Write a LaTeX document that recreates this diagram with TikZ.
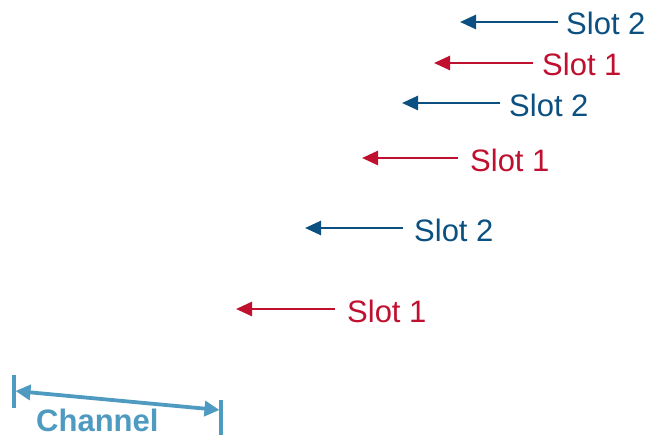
\documentclass[tikz,border=0pt]{standalone}
\usepackage{fontspec}
\setmainfont{Liberation Sans}
\usetikzlibrary{arrows.meta}
\definecolor{slotblue}{HTML}{0B5080}
\definecolor{slotred}{HTML}{C01030}
\definecolor{chan}{HTML}{4E9AC0}
\begin{document}
\begin{tikzpicture}[x=1pt,y=-1pt,
  lbl/.style={anchor=base west,inner sep=0pt,font=\fontsize{31}{36}\selectfont},
  blue lbl/.style={lbl,text=slotblue},
  red lbl/.style={lbl,text=slotred},
  slotarrow/.style={line width=2.6pt,-{Triangle[length=16pt,width=14pt]}},
  chanarrow/.style={line width=3.8pt,{Triangle[length=15pt,width=15pt]}-{Triangle[length=15pt,width=15pt]}},
  bar/.style={line width=3.8pt,chan}]
\useasboundingbox (0,0) rectangle (648,436);
% labels
\node[blue lbl] (s1) at (566,35) {Slot 2};
\node[red lbl]  (s2) at (542,76) {Slot 1};
\node[blue lbl] (s3) at (509,116) {Slot 2};
\node[red lbl]  (s4) at (470,171) {Slot 1};
\node[blue lbl] (s5) at (414,241) {Slot 2};
\node[red lbl]  (s6) at (347,322) {Slot 1};
% arrow tips
\coordinate (t1) at (460,22);
\coordinate (t2) at (434,63);
\coordinate (t3) at (402,103);
\coordinate (t4) at (362,158);
\coordinate (t5) at (305,228);
\coordinate (t6) at (236,309);
\draw[slotarrow,slotblue] ([xshift=-8pt]s1.west |- t1) -- (t1);
\draw[slotarrow,slotred]  ([xshift=-9pt]s2.west |- t2) -- (t2);
\draw[slotarrow,slotblue] ([xshift=-9pt]s3.west |- t3) -- (t3);
\draw[slotarrow,slotred]  ([xshift=-12pt]s4.west |- t4) -- (t4);
\draw[slotarrow,slotblue] ([xshift=-11pt]s5.west |- t5) -- (t5);
\draw[slotarrow,slotred]  ([xshift=-12pt]s6.west |- t6) -- (t6);
% channel
\coordinate (la) at (14,375);
\coordinate (lb) at (14,408);
\coordinate (ra) at (221,400);
\coordinate (rb) at (221,435);
\draw[bar] (la) -- (lb);
\draw[bar] (ra) -- (rb);
\draw[chanarrow,chan] (15.5,391) -- (219.5,410);
\node[anchor=base west,inner sep=0pt,text=chan,font=\fontsize{31}{36}\selectfont\bfseries] (ch) at (36,431) {Channel};
\end{tikzpicture}
\end{document}
